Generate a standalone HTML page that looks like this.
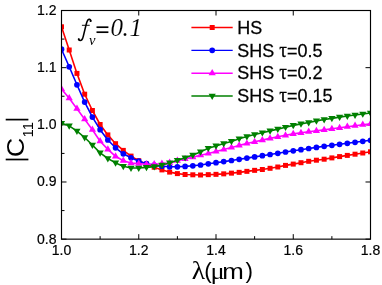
<!DOCTYPE html>
<html><head><meta charset="utf-8"><title>chart</title><style>html,body{margin:0;padding:0;background:#fff}svg{display:block;will-change:transform}</style></head><body>
<svg width="382" height="285" viewBox="0 0 382 285">
<rect width="382" height="285" fill="#fff"/>
<defs><clipPath id="cp"><rect x="61.50" y="10.50" width="309.00" height="228.65"/></clipPath></defs>
<g stroke="#000" stroke-width="1.0"><line x1="61.50" y1="239.15" x2="61.50" y2="234.15"/><line x1="61.50" y1="10.5" x2="61.50" y2="15.5"/><line x1="100.12" y1="239.15" x2="100.12" y2="236.15"/><line x1="138.75" y1="239.15" x2="138.75" y2="234.15"/><line x1="138.75" y1="10.5" x2="138.75" y2="15.5"/><line x1="177.38" y1="239.15" x2="177.38" y2="236.15"/><line x1="216.00" y1="239.15" x2="216.00" y2="234.15"/><line x1="216.00" y1="10.5" x2="216.00" y2="15.5"/><line x1="254.62" y1="239.15" x2="254.62" y2="236.15"/><line x1="293.25" y1="239.15" x2="293.25" y2="234.15"/><line x1="293.25" y1="10.5" x2="293.25" y2="15.5"/><line x1="331.88" y1="239.15" x2="331.88" y2="236.15"/><line x1="370.50" y1="239.15" x2="370.50" y2="234.15"/><line x1="370.50" y1="10.5" x2="370.50" y2="15.5"/><line x1="61.5" y1="10.50" x2="66.5" y2="10.50"/><line x1="370.5" y1="10.50" x2="365.5" y2="10.50"/><line x1="61.5" y1="39.08" x2="64.5" y2="39.08"/><line x1="61.5" y1="67.66" x2="66.5" y2="67.66"/><line x1="370.5" y1="67.66" x2="365.5" y2="67.66"/><line x1="61.5" y1="96.24" x2="64.5" y2="96.24"/><line x1="61.5" y1="124.83" x2="66.5" y2="124.83"/><line x1="370.5" y1="124.83" x2="365.5" y2="124.83"/><line x1="61.5" y1="153.41" x2="64.5" y2="153.41"/><line x1="61.5" y1="181.99" x2="66.5" y2="181.99"/><line x1="370.5" y1="181.99" x2="365.5" y2="181.99"/><line x1="61.5" y1="210.57" x2="64.5" y2="210.57"/><line x1="61.5" y1="239.15" x2="66.5" y2="239.15"/><line x1="370.5" y1="239.15" x2="365.5" y2="239.15"/></g>
<g clip-path="url(#cp)"><polyline points="61.50,26.80 69.22,50.00 76.95,73.40 84.67,94.20 92.40,110.50 100.12,124.50 107.85,134.90 115.57,143.70 123.30,150.40 131.02,156.10 138.75,160.70 146.47,164.10 154.20,167.20 161.93,169.90 169.65,172.10 177.38,173.60 185.10,174.50 192.82,174.80 200.55,175.00 208.28,174.65 216.00,174.35 223.72,173.85 231.45,173.15 239.17,172.35 246.90,171.35 254.62,170.35 262.35,169.50 270.07,168.30 277.80,167.00 285.52,165.40 293.25,164.10 300.98,162.70 308.70,161.30 316.42,160.20 324.15,159.20 331.88,157.90 339.60,156.60 347.32,155.40 355.05,154.20 362.77,153.00 370.50,151.80" fill="none" stroke="#ff0000" stroke-width="1.6" stroke-linejoin="round"/><rect x="59.00" y="24.30" width="5.0" height="5.0" fill="#ff0000"/><rect x="66.72" y="47.50" width="5.0" height="5.0" fill="#ff0000"/><rect x="74.45" y="70.90" width="5.0" height="5.0" fill="#ff0000"/><rect x="82.17" y="91.70" width="5.0" height="5.0" fill="#ff0000"/><rect x="89.90" y="108.00" width="5.0" height="5.0" fill="#ff0000"/><rect x="97.62" y="122.00" width="5.0" height="5.0" fill="#ff0000"/><rect x="105.35" y="132.40" width="5.0" height="5.0" fill="#ff0000"/><rect x="113.07" y="141.20" width="5.0" height="5.0" fill="#ff0000"/><rect x="120.80" y="147.90" width="5.0" height="5.0" fill="#ff0000"/><rect x="128.52" y="153.60" width="5.0" height="5.0" fill="#ff0000"/><rect x="136.25" y="158.20" width="5.0" height="5.0" fill="#ff0000"/><rect x="143.97" y="161.60" width="5.0" height="5.0" fill="#ff0000"/><rect x="151.70" y="164.70" width="5.0" height="5.0" fill="#ff0000"/><rect x="159.43" y="167.40" width="5.0" height="5.0" fill="#ff0000"/><rect x="167.15" y="169.60" width="5.0" height="5.0" fill="#ff0000"/><rect x="174.88" y="171.10" width="5.0" height="5.0" fill="#ff0000"/><rect x="182.60" y="172.00" width="5.0" height="5.0" fill="#ff0000"/><rect x="190.32" y="172.30" width="5.0" height="5.0" fill="#ff0000"/><rect x="198.05" y="172.50" width="5.0" height="5.0" fill="#ff0000"/><rect x="205.78" y="172.15" width="5.0" height="5.0" fill="#ff0000"/><rect x="213.50" y="171.85" width="5.0" height="5.0" fill="#ff0000"/><rect x="221.22" y="171.35" width="5.0" height="5.0" fill="#ff0000"/><rect x="228.95" y="170.65" width="5.0" height="5.0" fill="#ff0000"/><rect x="236.67" y="169.85" width="5.0" height="5.0" fill="#ff0000"/><rect x="244.40" y="168.85" width="5.0" height="5.0" fill="#ff0000"/><rect x="252.12" y="167.85" width="5.0" height="5.0" fill="#ff0000"/><rect x="259.85" y="167.00" width="5.0" height="5.0" fill="#ff0000"/><rect x="267.57" y="165.80" width="5.0" height="5.0" fill="#ff0000"/><rect x="275.30" y="164.50" width="5.0" height="5.0" fill="#ff0000"/><rect x="283.02" y="162.90" width="5.0" height="5.0" fill="#ff0000"/><rect x="290.75" y="161.60" width="5.0" height="5.0" fill="#ff0000"/><rect x="298.48" y="160.20" width="5.0" height="5.0" fill="#ff0000"/><rect x="306.20" y="158.80" width="5.0" height="5.0" fill="#ff0000"/><rect x="313.92" y="157.70" width="5.0" height="5.0" fill="#ff0000"/><rect x="321.65" y="156.70" width="5.0" height="5.0" fill="#ff0000"/><rect x="329.38" y="155.40" width="5.0" height="5.0" fill="#ff0000"/><rect x="337.10" y="154.10" width="5.0" height="5.0" fill="#ff0000"/><rect x="344.82" y="152.90" width="5.0" height="5.0" fill="#ff0000"/><rect x="352.55" y="151.70" width="5.0" height="5.0" fill="#ff0000"/><rect x="360.27" y="150.50" width="5.0" height="5.0" fill="#ff0000"/><rect x="368.00" y="149.30" width="5.0" height="5.0" fill="#ff0000"/><polyline points="61.50,49.20 69.22,66.80 76.95,84.80 84.67,102.10 92.40,117.10 100.12,129.70 107.85,140.00 115.57,147.80 123.30,153.80 131.02,157.80 138.75,161.20 146.47,163.70 154.20,165.20 161.93,166.20 169.65,166.80 177.38,166.80 185.10,166.40 192.82,165.80 200.55,165.00 208.28,163.80 216.00,162.70 223.72,161.60 231.45,160.50 239.17,159.30 246.90,158.10 254.62,156.90 262.35,155.70 270.07,154.50 277.80,153.30 285.52,152.00 293.25,150.80 300.98,149.70 308.70,148.50 316.42,147.40 324.15,146.30 331.88,145.30 339.60,144.30 347.32,143.30 355.05,142.30 362.77,141.30 370.50,140.30" fill="none" stroke="#0000ff" stroke-width="1.6" stroke-linejoin="round"/><circle cx="61.50" cy="49.20" r="2.85" fill="#0000ff"/><circle cx="69.22" cy="66.80" r="2.85" fill="#0000ff"/><circle cx="76.95" cy="84.80" r="2.85" fill="#0000ff"/><circle cx="84.67" cy="102.10" r="2.85" fill="#0000ff"/><circle cx="92.40" cy="117.10" r="2.85" fill="#0000ff"/><circle cx="100.12" cy="129.70" r="2.85" fill="#0000ff"/><circle cx="107.85" cy="140.00" r="2.85" fill="#0000ff"/><circle cx="115.57" cy="147.80" r="2.85" fill="#0000ff"/><circle cx="123.30" cy="153.80" r="2.85" fill="#0000ff"/><circle cx="131.02" cy="157.80" r="2.85" fill="#0000ff"/><circle cx="138.75" cy="161.20" r="2.85" fill="#0000ff"/><circle cx="146.47" cy="163.70" r="2.85" fill="#0000ff"/><circle cx="154.20" cy="165.20" r="2.85" fill="#0000ff"/><circle cx="161.93" cy="166.20" r="2.85" fill="#0000ff"/><circle cx="169.65" cy="166.80" r="2.85" fill="#0000ff"/><circle cx="177.38" cy="166.80" r="2.85" fill="#0000ff"/><circle cx="185.10" cy="166.40" r="2.85" fill="#0000ff"/><circle cx="192.82" cy="165.80" r="2.85" fill="#0000ff"/><circle cx="200.55" cy="165.00" r="2.85" fill="#0000ff"/><circle cx="208.28" cy="163.80" r="2.85" fill="#0000ff"/><circle cx="216.00" cy="162.70" r="2.85" fill="#0000ff"/><circle cx="223.72" cy="161.60" r="2.85" fill="#0000ff"/><circle cx="231.45" cy="160.50" r="2.85" fill="#0000ff"/><circle cx="239.17" cy="159.30" r="2.85" fill="#0000ff"/><circle cx="246.90" cy="158.10" r="2.85" fill="#0000ff"/><circle cx="254.62" cy="156.90" r="2.85" fill="#0000ff"/><circle cx="262.35" cy="155.70" r="2.85" fill="#0000ff"/><circle cx="270.07" cy="154.50" r="2.85" fill="#0000ff"/><circle cx="277.80" cy="153.30" r="2.85" fill="#0000ff"/><circle cx="285.52" cy="152.00" r="2.85" fill="#0000ff"/><circle cx="293.25" cy="150.80" r="2.85" fill="#0000ff"/><circle cx="300.98" cy="149.70" r="2.85" fill="#0000ff"/><circle cx="308.70" cy="148.50" r="2.85" fill="#0000ff"/><circle cx="316.42" cy="147.40" r="2.85" fill="#0000ff"/><circle cx="324.15" cy="146.30" r="2.85" fill="#0000ff"/><circle cx="331.88" cy="145.30" r="2.85" fill="#0000ff"/><circle cx="339.60" cy="144.30" r="2.85" fill="#0000ff"/><circle cx="347.32" cy="143.30" r="2.85" fill="#0000ff"/><circle cx="355.05" cy="142.30" r="2.85" fill="#0000ff"/><circle cx="362.77" cy="141.30" r="2.85" fill="#0000ff"/><circle cx="370.50" cy="140.30" r="2.85" fill="#0000ff"/><polyline points="61.50,89.00 69.22,98.20 76.95,108.70 84.67,119.20 92.40,129.70 100.12,141.20 107.85,149.40 115.57,156.30 123.30,160.70 131.02,163.10 138.75,163.60 146.47,164.30 154.20,164.10 161.93,163.70 169.65,162.70 177.38,160.60 185.10,159.00 192.82,157.10 200.55,155.20 208.28,153.50 216.00,151.50 223.72,149.50 231.45,147.50 239.17,145.40 246.90,143.50 254.62,141.80 262.35,140.10 270.07,138.40 277.80,136.80 285.52,135.30 293.25,133.90 300.98,132.80 308.70,131.70 316.42,130.80 324.15,129.90 331.88,128.80 339.60,127.80 347.32,126.70 355.05,125.70 362.77,124.70 370.50,123.80" fill="none" stroke="#ff00ff" stroke-width="1.6" stroke-linejoin="round"/><polygon points="57.90,91.10 65.10,91.10 61.50,84.90" fill="#ff00ff"/><polygon points="65.62,100.30 72.82,100.30 69.22,94.10" fill="#ff00ff"/><polygon points="73.35,110.80 80.55,110.80 76.95,104.60" fill="#ff00ff"/><polygon points="81.08,121.30 88.27,121.30 84.67,115.10" fill="#ff00ff"/><polygon points="88.80,131.80 96.00,131.80 92.40,125.60" fill="#ff00ff"/><polygon points="96.53,143.30 103.72,143.30 100.12,137.10" fill="#ff00ff"/><polygon points="104.25,151.50 111.45,151.50 107.85,145.30" fill="#ff00ff"/><polygon points="111.97,158.40 119.17,158.40 115.57,152.20" fill="#ff00ff"/><polygon points="119.70,162.80 126.90,162.80 123.30,156.60" fill="#ff00ff"/><polygon points="127.42,165.20 134.62,165.20 131.02,159.00" fill="#ff00ff"/><polygon points="135.15,165.70 142.35,165.70 138.75,159.50" fill="#ff00ff"/><polygon points="142.88,166.40 150.07,166.40 146.47,160.20" fill="#ff00ff"/><polygon points="150.60,166.20 157.80,166.20 154.20,160.00" fill="#ff00ff"/><polygon points="158.33,165.80 165.53,165.80 161.93,159.60" fill="#ff00ff"/><polygon points="166.05,164.80 173.25,164.80 169.65,158.60" fill="#ff00ff"/><polygon points="173.78,162.70 180.97,162.70 177.38,156.50" fill="#ff00ff"/><polygon points="181.50,161.10 188.70,161.10 185.10,154.90" fill="#ff00ff"/><polygon points="189.22,159.20 196.42,159.20 192.82,153.00" fill="#ff00ff"/><polygon points="196.95,157.30 204.15,157.30 200.55,151.10" fill="#ff00ff"/><polygon points="204.68,155.60 211.88,155.60 208.28,149.40" fill="#ff00ff"/><polygon points="212.40,153.60 219.60,153.60 216.00,147.40" fill="#ff00ff"/><polygon points="220.12,151.60 227.32,151.60 223.72,145.40" fill="#ff00ff"/><polygon points="227.85,149.60 235.05,149.60 231.45,143.40" fill="#ff00ff"/><polygon points="235.57,147.50 242.77,147.50 239.17,141.30" fill="#ff00ff"/><polygon points="243.30,145.60 250.50,145.60 246.90,139.40" fill="#ff00ff"/><polygon points="251.03,143.90 258.23,143.90 254.62,137.70" fill="#ff00ff"/><polygon points="258.75,142.20 265.95,142.20 262.35,136.00" fill="#ff00ff"/><polygon points="266.47,140.50 273.68,140.50 270.07,134.30" fill="#ff00ff"/><polygon points="274.20,138.90 281.40,138.90 277.80,132.70" fill="#ff00ff"/><polygon points="281.92,137.40 289.12,137.40 285.52,131.20" fill="#ff00ff"/><polygon points="289.65,136.00 296.85,136.00 293.25,129.80" fill="#ff00ff"/><polygon points="297.38,134.90 304.58,134.90 300.98,128.70" fill="#ff00ff"/><polygon points="305.10,133.80 312.30,133.80 308.70,127.60" fill="#ff00ff"/><polygon points="312.82,132.90 320.02,132.90 316.42,126.70" fill="#ff00ff"/><polygon points="320.55,132.00 327.75,132.00 324.15,125.80" fill="#ff00ff"/><polygon points="328.27,130.90 335.48,130.90 331.88,124.70" fill="#ff00ff"/><polygon points="336.00,129.90 343.20,129.90 339.60,123.70" fill="#ff00ff"/><polygon points="343.72,128.80 350.93,128.80 347.32,122.60" fill="#ff00ff"/><polygon points="351.45,127.80 358.65,127.80 355.05,121.60" fill="#ff00ff"/><polygon points="359.17,126.80 366.38,126.80 362.77,120.60" fill="#ff00ff"/><polygon points="366.90,125.90 374.10,125.90 370.50,119.70" fill="#ff00ff"/><polyline points="61.50,123.20 69.22,125.80 76.95,131.10 84.67,137.50 92.40,145.00 100.12,152.90 107.85,158.50 115.57,162.90 123.30,166.30 131.02,168.00 138.75,168.00 146.47,167.40 154.20,166.60 161.93,165.10 169.65,162.90 177.38,160.30 185.10,157.70 192.82,155.10 200.55,151.90 208.28,148.20 216.00,145.90 223.72,143.60 231.45,141.40 239.17,138.70 246.90,136.60 254.62,134.60 262.35,132.70 270.07,130.90 277.80,129.10 285.52,127.20 293.25,125.40 300.98,123.90 308.70,122.50 316.42,120.85 324.15,119.55 331.88,118.35 339.60,117.15 347.32,116.05 355.05,115.05 362.77,113.95 370.50,112.95" fill="none" stroke="#008000" stroke-width="1.6" stroke-linejoin="round"/><polygon points="57.90,120.90 65.10,120.90 61.50,127.10" fill="#008000"/><polygon points="65.62,123.50 72.82,123.50 69.22,129.70" fill="#008000"/><polygon points="73.35,128.80 80.55,128.80 76.95,135.00" fill="#008000"/><polygon points="81.08,135.20 88.27,135.20 84.67,141.40" fill="#008000"/><polygon points="88.80,142.70 96.00,142.70 92.40,148.90" fill="#008000"/><polygon points="96.53,150.60 103.72,150.60 100.12,156.80" fill="#008000"/><polygon points="104.25,156.20 111.45,156.20 107.85,162.40" fill="#008000"/><polygon points="111.97,160.60 119.17,160.60 115.57,166.80" fill="#008000"/><polygon points="119.70,164.00 126.90,164.00 123.30,170.20" fill="#008000"/><polygon points="127.42,165.70 134.62,165.70 131.02,171.90" fill="#008000"/><polygon points="135.15,165.70 142.35,165.70 138.75,171.90" fill="#008000"/><polygon points="142.88,165.10 150.07,165.10 146.47,171.30" fill="#008000"/><polygon points="150.60,164.30 157.80,164.30 154.20,170.50" fill="#008000"/><polygon points="158.33,162.80 165.53,162.80 161.93,169.00" fill="#008000"/><polygon points="166.05,160.60 173.25,160.60 169.65,166.80" fill="#008000"/><polygon points="173.78,158.00 180.97,158.00 177.38,164.20" fill="#008000"/><polygon points="181.50,155.40 188.70,155.40 185.10,161.60" fill="#008000"/><polygon points="189.22,152.80 196.42,152.80 192.82,159.00" fill="#008000"/><polygon points="196.95,149.60 204.15,149.60 200.55,155.80" fill="#008000"/><polygon points="204.68,145.90 211.88,145.90 208.28,152.10" fill="#008000"/><polygon points="212.40,143.60 219.60,143.60 216.00,149.80" fill="#008000"/><polygon points="220.12,141.30 227.32,141.30 223.72,147.50" fill="#008000"/><polygon points="227.85,139.10 235.05,139.10 231.45,145.30" fill="#008000"/><polygon points="235.57,136.40 242.77,136.40 239.17,142.60" fill="#008000"/><polygon points="243.30,134.30 250.50,134.30 246.90,140.50" fill="#008000"/><polygon points="251.03,132.30 258.23,132.30 254.62,138.50" fill="#008000"/><polygon points="258.75,130.40 265.95,130.40 262.35,136.60" fill="#008000"/><polygon points="266.47,128.60 273.68,128.60 270.07,134.80" fill="#008000"/><polygon points="274.20,126.80 281.40,126.80 277.80,133.00" fill="#008000"/><polygon points="281.92,124.90 289.12,124.90 285.52,131.10" fill="#008000"/><polygon points="289.65,123.10 296.85,123.10 293.25,129.30" fill="#008000"/><polygon points="297.38,121.60 304.58,121.60 300.98,127.80" fill="#008000"/><polygon points="305.10,120.20 312.30,120.20 308.70,126.40" fill="#008000"/><polygon points="312.82,118.55 320.02,118.55 316.42,124.75" fill="#008000"/><polygon points="320.55,117.25 327.75,117.25 324.15,123.45" fill="#008000"/><polygon points="328.27,116.05 335.48,116.05 331.88,122.25" fill="#008000"/><polygon points="336.00,114.85 343.20,114.85 339.60,121.05" fill="#008000"/><polygon points="343.72,113.75 350.93,113.75 347.32,119.95" fill="#008000"/><polygon points="351.45,112.75 358.65,112.75 355.05,118.95" fill="#008000"/><polygon points="359.17,111.65 366.38,111.65 362.77,117.85" fill="#008000"/><polygon points="366.90,110.65 374.10,110.65 370.50,116.85" fill="#008000"/></g>
<rect x="61.5" y="10.5" width="309.00" height="228.65" fill="none" stroke="#000" stroke-width="1.15"/>
<g font-family="Liberation Sans, sans-serif" font-size="14" fill="#000" stroke="#000" stroke-width="0.2"><text x="56.5" y="14.90" text-anchor="end">1.2</text><text x="56.5" y="72.06" text-anchor="end">1.1</text><text x="56.5" y="129.22" text-anchor="end">1.0</text><text x="56.5" y="186.39" text-anchor="end">0.9</text><text x="56.5" y="243.55" text-anchor="end">0.8</text><text x="61.50" y="255.3" text-anchor="middle">1.0</text><text x="138.75" y="255.3" text-anchor="middle">1.2</text><text x="216.00" y="255.3" text-anchor="middle">1.4</text><text x="293.25" y="255.3" text-anchor="middle">1.6</text><text x="370.50" y="255.3" text-anchor="middle">1.8</text></g>
<text transform="translate(191.7,278.5) scale(1.1,1)" font-family="Liberation Serif, serif" fill="#000" font-size="25">λ</text>
<text transform="translate(204.3,277.6)" font-family="Liberation Sans, sans-serif" fill="#000" font-size="22.5">(</text>
<text transform="translate(210.6,278.5) scale(1.15,1)" font-family="Liberation Serif, serif" fill="#000" font-size="23">μ</text>
<text transform="translate(222.3,278.5) scale(1.15,1)" font-family="Liberation Sans, sans-serif" fill="#000" font-size="22.5">m</text>
<text transform="translate(245.6,277.6)" font-family="Liberation Sans, sans-serif" fill="#000" font-size="22.5">)</text>
<g stroke="#000" stroke-width="1.7"><line x1="5.7" y1="159.5" x2="28.4" y2="159.5"/><line x1="5.7" y1="119.6" x2="28.4" y2="119.6"/></g>
<text transform="translate(24,157.2) rotate(-90) scale(1.1,1)" font-family="Liberation Sans, sans-serif" font-size="24.5" fill="#000">C</text>
<text transform="translate(32.6,137.6) rotate(-90)" font-family="Liberation Sans, sans-serif" font-size="15" fill="#000">11</text>
<g fill="none" stroke="#000" stroke-linecap="round" stroke-linejoin="round"><path d="M90.7,20.9 C90.7,19.1 88.9,18.6 87.7,20.2 C86.8,21.5 86.4,23.4 85.9,25.5 L83.3,36.3 C82.7,38.9 81.6,40.7 80.1,40.6 C79.2,40.5 78.7,39.9 78.7,39.3" stroke-width="1.5"/><path d="M82.3,25.3 L89.3,25.3" stroke-width="0.95"/></g><circle cx="90.6" cy="20.9" r="1.05" fill="#000"/><circle cx="78.8" cy="39.3" r="1.05" fill="#000"/>
<text x="89.0" y="44.6" font-family="Liberation Serif, serif" font-style="italic" fill="#000" font-size="14.5">v</text>
<g stroke="#000" stroke-width="1.7"><line x1="96.5" y1="27.2" x2="108.4" y2="27.2"/><line x1="96.5" y1="32.2" x2="108.4" y2="32.2"/></g>
<text y="36.2" font-family="Liberation Serif, serif" font-style="italic" fill="#000" font-size="25" stroke="#fff" stroke-width="0.12"><tspan x="110.6">0</tspan><tspan x="122.4">.</tspan><tspan x="129.6">1</tspan></text>
<line x1="191.4" y1="27.50" x2="232.7" y2="27.50" stroke="#ff0000" stroke-width="1.4"/><rect x="209.70" y="25.00" width="5.0" height="5.0" fill="#ff0000"/><text transform="translate(237.3,34.15) scale(1,1.05)" font-family="Liberation Sans, sans-serif" font-size="18" fill="#000" stroke="#000" stroke-width="0.25">HS</text><line x1="191.4" y1="50.35" x2="232.7" y2="50.35" stroke="#0000ff" stroke-width="1.4"/><circle cx="212.20" cy="50.35" r="2.85" fill="#0000ff"/><text transform="translate(237.3,56.65) scale(1,1.05)" font-family="Liberation Sans, sans-serif" font-size="18" fill="#000" stroke="#000" stroke-width="0.25">SHS <tspan font-family="Liberation Serif, serif" font-size="19">τ</tspan>=0.5</text><line x1="191.4" y1="73.20" x2="232.7" y2="73.20" stroke="#ff00ff" stroke-width="1.4"/><polygon points="208.60,75.30 215.80,75.30 212.20,69.10" fill="#ff00ff"/><text transform="translate(237.3,79.15) scale(1,1.05)" font-family="Liberation Sans, sans-serif" font-size="18" fill="#000" stroke="#000" stroke-width="0.25">SHS <tspan font-family="Liberation Serif, serif" font-size="19">τ</tspan>=0.2</text><line x1="191.4" y1="96.05" x2="232.7" y2="96.05" stroke="#008000" stroke-width="1.4"/><polygon points="208.60,93.75 215.80,93.75 212.20,99.95" fill="#008000"/><text transform="translate(237.3,101.65) scale(1,1.05)" font-family="Liberation Sans, sans-serif" font-size="18" fill="#000" stroke="#000" stroke-width="0.25">SHS <tspan font-family="Liberation Serif, serif" font-size="19">τ</tspan>=0.15</text>
</svg>
</body></html>
